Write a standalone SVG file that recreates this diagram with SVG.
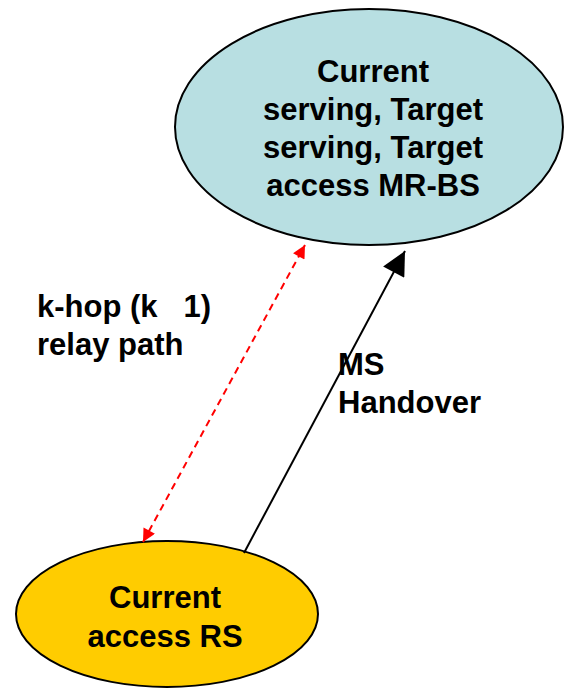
<svg xmlns="http://www.w3.org/2000/svg" width="565" height="688" viewBox="0 0 565 688">
<style>
text{font-family:"Liberation Sans",Arial,sans-serif;font-weight:bold;font-size:31px;fill:#000;white-space:pre}
.c{text-anchor:middle}
.node{stroke:#000;stroke-width:2}
</style>
<defs>
<marker id="ar" viewBox="0 0 10 10" refX="10" refY="5" markerWidth="15" markerHeight="13" markerUnits="userSpaceOnUse" orient="auto-start-reverse"><path d="M0,0L10,5L0,10z" fill="#ff0000"/></marker>
<marker id="ab" viewBox="0 0 10 10" refX="10" refY="5" markerWidth="28" markerHeight="24" markerUnits="userSpaceOnUse" orient="auto"><path d="M0,0L10,5L0,10z" fill="#000"/></marker>
</defs>
<rect width="565" height="688" fill="#fff"/>
<g id="mrbs">
<ellipse class="node" cx="369" cy="127" rx="194" ry="118" fill="#b8dfe2"/>
<text class="c" x="373" y="82">Current</text>
<text class="c" x="373" y="120">serving, Target</text>
<text class="c" x="373" y="158">serving, Target</text>
<text class="c" x="373" y="196">access MR-BS</text>
</g>
<g id="rs">
<ellipse class="node" cx="167" cy="614" rx="151" ry="73" fill="#ffcc00"/>
<text class="c" x="165" y="608">Current</text>
<text class="c" x="165" y="647">access RS</text>
</g>
<g id="connectors">
<line x1="143" y1="542" x2="305" y2="245" stroke="#ff0000" stroke-width="2" stroke-dasharray="7,5" marker-start="url(#ar)" marker-end="url(#ar)"/>
<line x1="244" y1="553" x2="405" y2="251" stroke="#000" stroke-width="2" marker-end="url(#ab)"/>
</g>
<g id="labels">
<text x="37" y="317" xml:space="preserve">k-hop (k   1)</text>
<text x="37" y="355">relay path</text>
<text x="338" y="375">MS</text>
<text x="338" y="413">Handover</text>
</g>
</svg>
